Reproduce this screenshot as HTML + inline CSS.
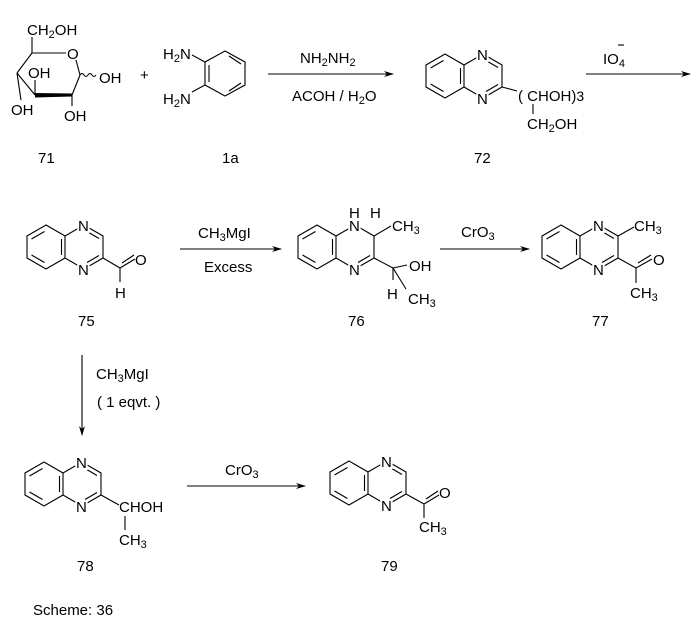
<!DOCTYPE html>
<html><head><style>
html,body{margin:0;padding:0;background:#fff;}
svg{display:block;}
text{font-family:"Liberation Sans",sans-serif;font-size:15px;fill:#000;}
.l{paint-order:stroke;stroke:#fff;stroke-width:4px;}
</style></head><body>
<svg width="696" height="627" viewBox="0 0 696 627" xmlns="http://www.w3.org/2000/svg">
<defs>
<g id="qx" stroke="#000" stroke-width="1.1" fill="none">
<polygon points="0,-22 19,-11 19,11 0,22 -19,11 -19,-11"/>
<polyline points="19,-11 38,-22 57,-11 57,11 38,22 19,11"/>
<line x1="-14.5" y1="-8" x2="-1.5" y2="-15.5"/>
<line x1="-14.5" y1="8" x2="-1.5" y2="15.5"/>
<line x1="15.5" y1="-8" x2="15.5" y2="8"/>
<line x1="53" y1="8.5" x2="41" y2="15.5"/>
</g>
<g id="qd" stroke="#000" stroke-width="1.1" fill="none">
<line x1="53" y1="-8.5" x2="41" y2="-15.5"/>
</g>
<marker id="ah" markerWidth="10" markerHeight="8" refX="9" refY="4" orient="auto" markerUnits="userSpaceOnUse">
<path d="M0,1 L10,4 L0,7 L3,4 Z" fill="#000"/>
</marker>
</defs>

<!-- 71 glucose -->
<g stroke="#000" stroke-width="1.1" fill="none">
<line x1="32" y1="37" x2="32" y2="53"/>
<line x1="32" y1="53" x2="66" y2="53"/>
<line x1="76" y1="60" x2="80" y2="75"/>
<line x1="80" y1="75" x2="72" y2="95"/>
<line x1="32" y1="53" x2="17" y2="73"/>
<line x1="17" y1="73" x2="35" y2="95"/>
<line x1="35" y1="95" x2="35" y2="80"/>
<line x1="17" y1="73" x2="21" y2="100"/>
<line x1="72" y1="95" x2="72" y2="106"/>
<path d="M80,75 q2,-3 4,0 t4,0 t4,0 t4,0"/>
</g>
<polygon points="35,93 72,93.5 72,96.5 35,97.5" fill="#000"/>
<text x="27" y="35">CH<tspan font-size="11" dy="3">2</tspan><tspan dy="-3">OH</tspan></text>
<text x="67" y="59">O</text>
<text x="99" y="83">OH</text>
<text x="28" y="78">OH</text>
<text x="11" y="115">OH</text>
<text x="64" y="121">OH</text>
<text x="38" y="163">71</text>

<text x="140" y="80">+</text>

<!-- 1a -->
<g stroke="#000" stroke-width="1.1" fill="none">
<polygon points="225,51 245,62 245,85 225,96 205,85 205,62"/>
<line x1="229" y1="56" x2="241" y2="64"/>
<line x1="209" y1="65" x2="209" y2="82"/>
<line x1="229" y1="91" x2="241" y2="83"/>
<line x1="205" y1="62" x2="192" y2="55"/>
<line x1="205" y1="85" x2="192" y2="92"/>
</g>
<text x="163" y="59">H<tspan font-size="11" dy="3">2</tspan><tspan dy="-3">N</tspan></text>
<text x="163" y="104">H<tspan font-size="11" dy="3">2</tspan><tspan dy="-3">N</tspan></text>
<text x="222" y="163">1a</text>

<line x1="268" y1="74" x2="393" y2="74" stroke="#000" stroke-width="1.1" marker-end="url(#ah)"/>
<text x="300" y="63">NH<tspan font-size="11" dy="3">2</tspan><tspan dy="-3">NH</tspan><tspan font-size="11" dy="3">2</tspan></text>
<text x="292" y="101">ACOH  / H<tspan font-size="11" dy="3">2</tspan><tspan dy="-3">O</tspan></text>

<!-- 72 -->
<use href="#qx" x="445" y="76"/><use href="#qd" x="445" y="76"/>
<text class="l" x="477" y="60">N</text>
<text class="l" x="477" y="104">N</text>
<line x1="502" y1="87" x2="517" y2="91" stroke="#000" stroke-width="1.1"/>
<text x="518" y="101">( CHOH)<tspan font-size="14">3</tspan></text>
<line x1="533" y1="104" x2="533" y2="114" stroke="#000" stroke-width="1.1"/>
<text x="527" y="129">CH<tspan font-size="11" dy="3">2</tspan><tspan dy="-3">OH</tspan></text>
<text x="474" y="163">72</text>

<line x1="586" y1="74" x2="690" y2="74" stroke="#000" stroke-width="1.1" marker-end="url(#ah)"/>
<text x="603" y="64">IO<tspan font-size="11" dy="3">4</tspan></text>
<line x1="618" y1="45" x2="624" y2="45" stroke="#000" stroke-width="1.1"/>

<!-- 75 -->
<use href="#qx" x="46" y="247"/><use href="#qd" x="46" y="247"/>
<text class="l" x="78" y="231">N</text>
<text class="l" x="78" y="275">N</text>
<g stroke="#000" stroke-width="1.1">
<line x1="103" y1="258" x2="120" y2="268"/>
<line x1="120" y1="268" x2="135" y2="259"/>
<line x1="122" y1="263" x2="134" y2="255"/>
<line x1="120" y1="268" x2="120" y2="282"/>
</g>
<text x="135" y="265">O</text>
<text x="115" y="298">H</text>
<text x="78" y="326">75</text>

<line x1="180" y1="249" x2="281" y2="249" stroke="#000" stroke-width="1.1" marker-end="url(#ah)"/>
<text x="198" y="238">CH<tspan font-size="11" dy="3">3</tspan><tspan dy="-3">MgI</tspan></text>
<text x="204" y="272">Excess</text>

<!-- 76 -->
<use href="#qx" x="317" y="247"/>
<text class="l" x="349" y="231">N</text>
<text x="349" y="218">H</text>
<text class="l" x="349" y="275">N</text>
<text x="370" y="218">H</text>
<g stroke="#000" stroke-width="1.1">
<line x1="374" y1="236" x2="391" y2="226"/>
<line x1="374" y1="258" x2="393" y2="268"/>
<line x1="393" y1="268" x2="407" y2="265"/>
<line x1="393" y1="268" x2="393" y2="280"/>
<line x1="393" y1="268" x2="406" y2="289"/>
</g>
<text x="392" y="231">CH<tspan font-size="11" dy="3">3</tspan></text>
<text x="409" y="271">OH</text>
<text x="387" y="299">H</text>
<text x="408" y="304">CH<tspan font-size="11" dy="3">3</tspan></text>
<text x="348" y="326">76</text>

<line x1="440" y1="249" x2="529" y2="249" stroke="#000" stroke-width="1.1" marker-end="url(#ah)"/>
<text x="461" y="237">CrO<tspan font-size="11" dy="3">3</tspan></text>

<!-- 77 -->
<use href="#qx" x="561" y="247"/><use href="#qd" x="561" y="247"/>
<text class="l" x="593" y="231">N</text>
<text class="l" x="593" y="275">N</text>
<g stroke="#000" stroke-width="1.1">
<line x1="618" y1="236" x2="634" y2="227"/>
<line x1="618" y1="258" x2="636" y2="268"/>
<line x1="636" y1="268" x2="652" y2="259"/>
<line x1="638" y1="263" x2="651" y2="255"/>
<line x1="636" y1="268" x2="636" y2="283"/>
</g>
<text x="634" y="231">CH<tspan font-size="11" dy="3">3</tspan></text>
<text x="653" y="265">O</text>
<text x="630" y="298">CH<tspan font-size="11" dy="3">3</tspan></text>
<text x="592" y="326">77</text>

<!-- down arrow -->
<line x1="82" y1="355" x2="82" y2="435" stroke="#000" stroke-width="1.1" marker-end="url(#ah)"/>
<text x="96" y="379">CH<tspan font-size="11" dy="3">3</tspan><tspan dy="-3">MgI</tspan></text>
<text x="97" y="407">( 1 eqvt.  )</text>

<!-- 78 -->
<use href="#qx" x="44" y="484"/><use href="#qd" x="44" y="484"/>
<text class="l" x="76" y="468">N</text>
<text class="l" x="76" y="512">N</text>
<line x1="101" y1="495" x2="119" y2="505" stroke="#000" stroke-width="1.1"/>
<text x="119" y="512">CHOH</text>
<line x1="125" y1="516" x2="125" y2="530" stroke="#000" stroke-width="1.1"/>
<text x="119" y="545">CH<tspan font-size="11" dy="3">3</tspan></text>
<text x="77" y="571">78</text>

<line x1="187" y1="486" x2="305" y2="486" stroke="#000" stroke-width="1.1" marker-end="url(#ah)"/>
<text x="225" y="475">CrO<tspan font-size="11" dy="3">3</tspan></text>

<!-- 79 -->
<use href="#qx" x="349" y="483"/><use href="#qd" x="349" y="483"/>
<text class="l" x="381" y="467">N</text>
<text class="l" x="381" y="511">N</text>
<g stroke="#000" stroke-width="1.1">
<line x1="406" y1="494" x2="424" y2="504"/>
<line x1="424" y1="504" x2="439" y2="495"/>
<line x1="426" y1="499" x2="438" y2="491"/>
<line x1="424" y1="504" x2="424" y2="518"/>
</g>
<text x="439" y="498">O</text>
<text x="419" y="532">CH<tspan font-size="11" dy="3">3</tspan></text>
<text x="381" y="571">79</text>

<text x="33" y="615">Scheme: 36</text>
</svg>
</body></html>
